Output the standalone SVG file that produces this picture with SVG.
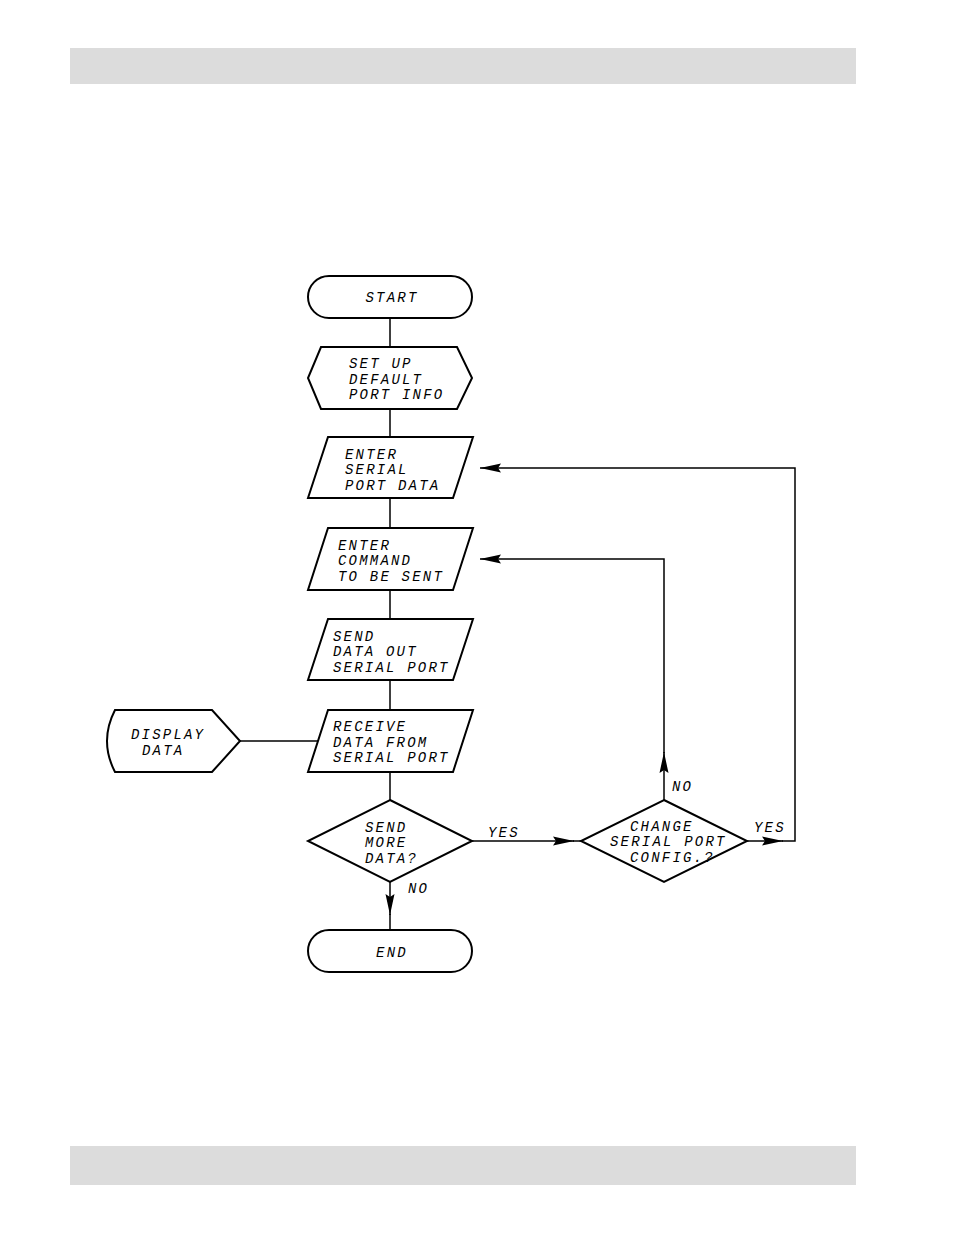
<svg xmlns="http://www.w3.org/2000/svg" width="954" height="1235" viewBox="0 0 954 1235">
<style>
.s{fill:#fff;stroke:#000;stroke-width:2}
.c{fill:none;stroke:#000;stroke-width:1.5}
.t{font-family:"Liberation Mono",monospace;font-style:italic;font-size:14px;letter-spacing:2.2px;fill:#000}
.m{text-anchor:middle}
</style>
<defs>
<marker id="ah" markerUnits="userSpaceOnUse" markerWidth="22" markerHeight="10" viewBox="0 0 22 10" refX="21" refY="5" orient="auto">
<path d="M0,0.5 L21,5 L0,9.5 L3,5 Z" fill="#000"/>
</marker>
</defs>
<rect x="70" y="48" width="786" height="36" fill="#dcdcdc"/>
<rect x="70" y="1146" width="786" height="39" fill="#dcdcdc"/>
<g id="connectors">
<path class="c" d="M390,318 V347"/>
<path class="c" d="M390,409 V437"/>
<path class="c" d="M390,498 V528"/>
<path class="c" d="M390,590 V619"/>
<path class="c" d="M390,680 V710"/>
<path class="c" d="M390,772 V800"/>
<path class="c" d="M390,882 V915" marker-end="url(#ah)"/>
<path class="c" d="M390,914 V930"/>
<path class="c" d="M472,841 H574" marker-end="url(#ah)"/>
<path class="c" d="M573,841 H581"/>
<path class="c" d="M664,800 V752" marker-end="url(#ah)"/>
<path class="c" d="M664,753 V559 H480" marker-end="url(#ah)"/>
<path class="c" d="M747,841 H783" marker-end="url(#ah)"/>
<path class="c" d="M782,841 H795 V468 H480" marker-end="url(#ah)"/>
<path class="c" d="M240,741 H318"/>
</g>
<g id="start">
<rect class="s" x="308" y="276" width="164" height="42" rx="21"/>
<text class="t m" x="392" y="302">START</text>
</g>
<g id="setup">
<path class="s" d="M321,347 H457 L472,378 L457,409 H321 L308,378 Z"/>
<text class="t" x="349" y="368">SET UP</text>
<text class="t" x="349" y="384">DEFAULT</text>
<text class="t" x="349" y="399">PORT INFO</text>
</g>
<g id="enterserial">
<path class="s" d="M328,437 H473 L453,498 H308 Z"/>
<text class="t" x="345" y="459">ENTER</text>
<text class="t" x="345" y="474">SERIAL</text>
<text class="t" x="345" y="490">PORT DATA</text>
</g>
<g id="entercommand">
<path class="s" d="M328,528 H473 L453,590 H308 Z"/>
<text class="t" x="338" y="550">ENTER</text>
<text class="t" x="338" y="565">COMMAND</text>
<text class="t" x="338" y="581">TO BE SENT</text>
</g>
<g id="senddata">
<path class="s" d="M328,619 H473 L453,680 H308 Z"/>
<text class="t" x="333" y="641">SEND</text>
<text class="t" x="333" y="656">DATA OUT</text>
<text class="t" x="333" y="672">SERIAL PORT</text>
</g>
<g id="receive">
<path class="s" d="M328,710 H473 L453,772 H308 Z"/>
<text class="t" x="333" y="731">RECEIVE</text>
<text class="t" x="333" y="747">DATA FROM</text>
<text class="t" x="333" y="762">SERIAL PORT</text>
</g>
<g id="display">
<path class="s" d="M115,710 H212 L240,741 L212,772 H115 Q99,741 115,710 Z"/>
<text class="t" x="131" y="739">DISPLAY</text>
<text class="t" x="142" y="755">DATA</text>
</g>
<g id="sendmore">
<path class="s" d="M390,800 L472,841 L390,882 L308,841 Z"/>
<text class="t" x="365" y="832">SEND</text>
<text class="t" x="365" y="847">MORE</text>
<text class="t" x="365" y="863">DATA?</text>
<text class="t" x="488" y="837">YES</text>
<text class="t" x="408" y="893">NO</text>
</g>
<g id="change">
<path class="s" d="M664,800 L747,841 L664,882 L581,841 Z"/>
<text class="t" x="630" y="831">CHANGE</text>
<text class="t" x="610" y="846">SERIAL PORT</text>
<text class="t" x="630" y="862">CONFIG.?</text>
<text class="t" x="754" y="832">YES</text>
<text class="t" x="672" y="791">NO</text>
</g>
<g id="end">
<rect class="s" x="308" y="930" width="164" height="42" rx="21"/>
<text class="t m" x="392" y="957">END</text>
</g>
</svg>
